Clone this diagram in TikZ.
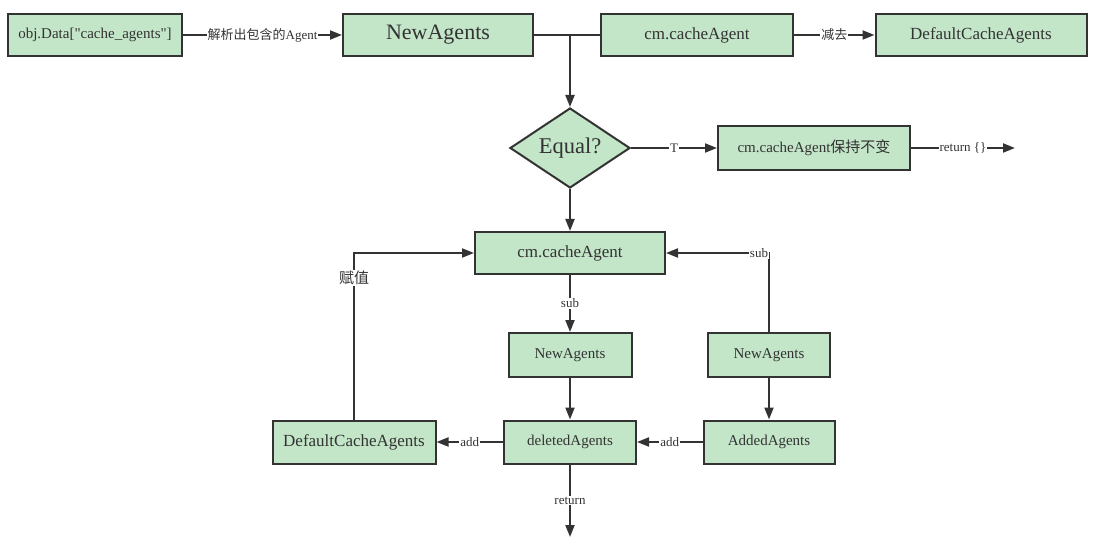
\documentclass[tikz,border=0pt]{standalone}
\usepackage{fontspec}
\setmainfont{Liberation Serif}[Ligatures=TeXOff]
\newfontfamily\cjk{Noto Sans CJK SC}
\usepackage{xcolor}
\usetikzlibrary{arrows.meta,shapes.geometric}
\definecolor{boxfill}{HTML}{C3E5C8}
\definecolor{boxline}{HTML}{333333}
\begin{document}
\begin{tikzpicture}[
  x=1pt, y=1pt,
  font=\fontsize{15}{17}\selectfont,
  box/.style    ={draw=boxline, line width=2pt, fill=boxfill, align=center,
                  inner sep=2pt, minimum height=42pt, text=boxline},
  widebox/.style={box, font=\fontsize{17}{19}\selectfont},
  bigbox/.style ={box, font=\fontsize{22}{24}\selectfont},
  decide/.style ={diamond, draw=boxline, line width=2pt, fill=boxfill,
                  minimum width=120pt, minimum height=80pt, aspect=1.5,
                  inner sep=0pt, font=\fontsize{22.5}{24}\selectfont, text=boxline},
  ar/.style     ={-{Triangle[length=12pt, width=9pt]}, line width=2pt, draw=boxline},
  ln/.style     ={line width=2pt, draw=boxline},
  lbl/.style    ={fill=white, inner sep=1pt, font=\fontsize{13}{15}\selectfont,
                  text=boxline}
]
\useasboundingbox (0,0) rectangle (1095,-548);

% top row
\node[box, minimum width=174pt] (obj) at (95,-35) {obj.Data["cache\_agents"]};
\node[bigbox, minimum width=190pt] (new) at (438,-35) {NewAgents};
\node[widebox, minimum width=192pt] (cache) at (697,-35) {cm.cacheAgent};
\node[widebox, minimum width=211pt] (dflt) at (981,-35) {DefaultCacheAgents};
\coordinate (join) at (570,-35);

% decision
\node[decide] (eq) at (570,-148) {Equal?};
\node[box, minimum width=192pt, minimum height=44pt] (keep) at (814,-148)
  {cm.cacheAgent{\cjk 保持不变}};
\coordinate (ret1) at (1015,-148);

% middle
\node[widebox, minimum width=190pt] (cm) at (570,-253) {cm.cacheAgent};
\node[box, minimum width=123pt, minimum height=44pt] (newa) at (570,-355) {NewAgents};
\node[box, minimum width=122pt, minimum height=44pt] (newb) at (769,-355) {NewAgents};

% bottom row
\node[widebox, minimum width=163pt, minimum height=43pt] (dflt2) at (354,-442)
  {DefaultCacheAgents};
\node[box, minimum width=132pt, minimum height=43pt] (del) at (570,-442) {deletedAgents};
\node[box, minimum width=131pt, minimum height=43pt] (add) at (769,-442) {AddedAgents};
\coordinate (ret2) at (570,-537);

\draw[ar] (obj) -- node[lbl] {{\cjk 解析出包含的}Agent} (new);
\draw[ln] (new) -- (cache);
\draw[ar] (join) -- (eq.north);
\draw[ar] (cache) -- node[lbl] {\cjk 减去} (dflt);
\draw[ar] (eq.east) -- node[lbl] {T} (keep);
\draw[ar] (keep) -- node[lbl] {return \{\}} (ret1);
\draw[ar] (eq.south) -- (cm);
\draw[ar] (cm) -- node[lbl] {sub} (newa);
\draw[ar] (newb.north) |- node[lbl, pos=0.5, xshift=-10pt] {sub} (cm.east);
\draw[ar] (newa) -- (del);
\draw[ar] (newb) -- (add);
\draw[ar] (add) -- node[lbl] {add} (del);
\draw[ar] (del) -- node[lbl] {add} (dflt2);
\draw[ar] (dflt2.north) |- node[lbl, pos=0.425, font=\cjk\fontsize{15}{17}\selectfont] {赋值} (cm.west);
\draw[ar] (del) -- node[lbl] {return} (ret2);

\end{tikzpicture}
\end{document}
